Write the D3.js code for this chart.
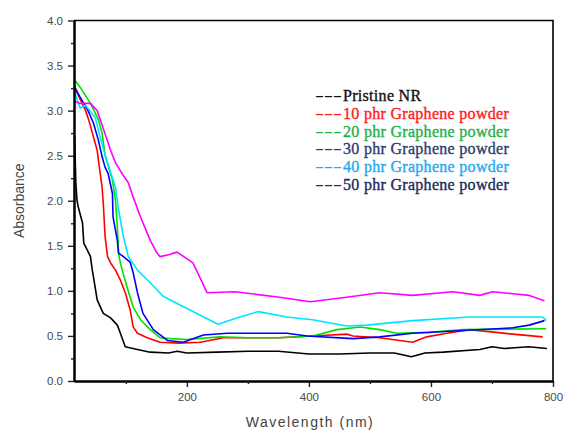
<!DOCTYPE html>
<html>
<head>
<meta charset="utf-8">
<script src="https://cdn.jsdelivr.net/npm/d3@7"></script>
<style>
  body { margin: 0; background: #fff; }
  #chart { width: 563px; height: 432px; }
  .tick text { font-family: Arial, "Liberation Sans", sans-serif; font-size: 11.5px; fill: #4a4a4a; }
  .legend text { font-family: "Liberation Serif", "DejaVu Serif", serif; font-size: 16px; }
</style>
</head>
<body>
<div id="chart"></div>
<script>
// wavelength (nm) / absorbance
const pristineWl = [16, 17, 18, 20, 22, 29, 31, 37, 42, 45, 47, 53, 63, 75, 86, 91, 99, 119, 140, 170, 184, 200, 250, 300, 350, 400, 450, 500, 540, 568, 590, 620, 680, 700, 720, 760, 790];
const pristineAbs = [2.72, 2.45, 2.2, 2.0, 1.93, 1.75, 1.53, 1.45, 1.38, 1.23, 1.15, 0.9, 0.75, 0.7, 0.62, 0.53, 0.38, 0.35, 0.32, 0.31, 0.33, 0.31, 0.32, 0.33, 0.33, 0.3, 0.3, 0.31, 0.31, 0.27, 0.31, 0.32, 0.35, 0.38, 0.36, 0.38, 0.36];

const phr10Wl = [16, 20, 34, 39, 53, 55, 61, 63, 66, 70, 75, 83, 91, 99, 107, 112, 119, 135, 156, 187, 222, 260, 300, 350, 406, 462, 472, 516, 570, 593, 626, 663, 707, 734, 783];
const phr10Abs = [3.27, 3.2, 3.0, 2.9, 2.56, 2.45, 2.15, 1.97, 1.6, 1.38, 1.31, 1.23, 1.12, 0.98, 0.79, 0.6, 0.53, 0.48, 0.43, 0.42, 0.43, 0.48, 0.48, 0.48, 0.5, 0.52, 0.5, 0.48, 0.43, 0.49, 0.53, 0.57, 0.54, 0.52, 0.49];

const phr20Wl = [16, 25, 42, 55, 61, 66, 78, 83, 86, 88, 91, 94, 102, 112, 124, 140, 156, 173, 200, 254, 300, 352, 406, 446, 484, 516, 544, 598, 652, 789];
const phr20Abs = [3.34, 3.26, 3.08, 2.9, 2.75, 2.5, 2.23, 2.0, 1.71, 1.42, 1.31, 1.23, 1.04, 0.82, 0.68, 0.57, 0.48, 0.47, 0.46, 0.49, 0.48, 0.48, 0.5, 0.57, 0.6, 0.57, 0.53, 0.54, 0.57, 0.58];

const phr30Wl = [16, 25, 38, 47, 55, 61, 66, 71, 78, 79, 86, 88, 96, 107, 112, 119, 128, 145, 168, 194, 227, 266, 364, 397, 472, 516, 570, 652, 707, 734, 761, 786];
const phr30Abs = [3.26, 3.15, 3.0, 2.86, 2.67, 2.49, 2.37, 2.3, 2.08, 1.82, 1.56, 1.42, 1.38, 1.32, 1.2, 0.98, 0.75, 0.57, 0.45, 0.43, 0.51, 0.53, 0.53, 0.5, 0.47, 0.49, 0.53, 0.56, 0.58, 0.59, 0.62, 0.67];

const phr40Wl = [16, 25, 34, 50, 58, 70, 83, 88, 96, 104, 119, 140, 161, 184, 222, 251, 287, 317, 364, 406, 462, 495, 570, 663, 734, 783, 789];
const phr40Abs = [3.2, 3.03, 3.06, 2.92, 2.7, 2.42, 2.15, 1.9, 1.6, 1.38, 1.23, 1.09, 0.94, 0.86, 0.73, 0.63, 0.71, 0.77, 0.71, 0.68, 0.61, 0.62, 0.67, 0.71, 0.71, 0.71, 0.67];

const phr50Wl = [16, 25, 42, 53, 62, 75, 83, 94, 104, 112, 124, 140, 151, 156, 170, 184, 210, 233, 279, 352, 402, 462, 516, 570, 636, 680, 701, 761, 786];
const phr50Abs = [3.1, 3.08, 3.08, 3.0, 2.82, 2.56, 2.42, 2.3, 2.2, 2.04, 1.82, 1.56, 1.42, 1.38, 1.4, 1.43, 1.31, 0.98, 0.99, 0.93, 0.88, 0.93, 0.98, 0.95, 0.99, 0.95, 0.99, 0.95, 0.89];

const seriesNames = ["Pristine NR", "10 phr Graphene powder", "20 phr Graphene powder", "30 phr Graphene powder", "40 phr Graphene powder", "50 phr Graphene powder"];
const lineColors = ["#000000", "#ff0000", "#00e000", "#0000ff", "#00e5ff", "#ff00ff"];
const legendColors = ["#111111", "#ff1a1a", "#1fb04a", "#2e3d6e", "#26a9ef", "#1c2a5c"];

const yTicks = [0, 0.5, 1.0, 1.5, 2.0, 2.5, 3.0, 3.5, 4.0];
const yMinor = [0.25, 0.75, 1.25, 1.75, 2.25, 2.75, 3.25, 3.75];
const xTicks = [200, 400, 600, 800];
const xMinor = [100, 300, 500, 700];

const wls = [pristineWl, phr10Wl, phr20Wl, phr30Wl, phr40Wl, phr50Wl];
const abss = [pristineAbs, phr10Abs, phr20Abs, phr30Abs, phr40Abs, phr50Abs];
const series = seriesNames.map((name, i) => ({
  name,
  color: lineColors[i],
  pts: wls[i].map((w, j) => [w, abss[i][j]])
}));

const W = 563, H = 432;
const margin = {left: 74, right: 10, top: 20.5, bottom: 51};

const svg = d3.select("#chart").append("svg")
  .attr("width", W)
  .attr("height", H);

const x = d3.scaleLinear().domain([15, 800]).range([margin.left, W - margin.right]);
const y = d3.scaleLinear().domain([0, 4]).range([H - margin.bottom, margin.top]);

// frame (top + right)
svg.append("path")
  .attr("d", `M${x(15)},${y(4)}H${x(800)}V${y(0)}`)
  .attr("fill", "none")
  .attr("stroke", "#000")
  .attr("stroke-width", 1.6);

// curves
const line = d3.line().x(d => x(d[0])).y(d => y(d[1]));
svg.selectAll("path.curve")
  .data(series)
  .enter().append("path")
    .attr("class", "curve")
    .attr("d", d => line(d.pts))
    .attr("fill", "none")
    .attr("stroke", d => d.color)
    .attr("stroke-width", 1.6)
    .attr("stroke-linejoin", "round");

// axes
svg.append("g")
  .attr("transform", `translate(${margin.left},0)`)
  .call(d3.axisLeft(y).tickValues(yTicks).tickFormat(d3.format(".1f")).tickSize(6).tickSizeOuter(0).tickPadding(5));
svg.append("g")
  .attr("transform", `translate(${margin.left},0)`)
  .call(d3.axisLeft(y).tickValues(yMinor).tickFormat("").tickSize(3).tickSizeOuter(0));

svg.append("g")
  .attr("transform", `translate(0,${H - margin.bottom})`)
  .call(d3.axisBottom(x).tickValues(xTicks).tickSize(6).tickSizeOuter(0).tickPadding(6));
svg.append("g")
  .attr("transform", `translate(0,${H - margin.bottom})`)
  .call(d3.axisBottom(x).tickValues(xMinor).tickFormat("").tickSize(3).tickSizeOuter(0));

svg.selectAll(".domain").attr("stroke", "#000").attr("stroke-width", 2);
svg.selectAll(".tick line").attr("stroke", "#222").attr("stroke-width", 1.4);

// axis titles
svg.append("text")
  .attr("transform", `translate(24,${(y(0) + y(4)) / 2}) rotate(-90)`)
  .attr("text-anchor", "middle")
  .style("font-family", "Arial, 'Liberation Sans', sans-serif")
  .style("font-size", "14px")
  .attr("fill", "#444")
  .text("Absorbance");

svg.append("text")
  .attr("x", 310)
  .attr("y", 427)
  .attr("text-anchor", "middle")
  .style("font-family", "Arial, 'Liberation Sans', sans-serif")
  .style("font-size", "14px")
  .style("letter-spacing", "1.5px")
  .attr("fill", "#444")
  .text("Wavelength (nm)");

// legend
const legend = svg.append("g").attr("class", "legend");
const legendRow = d3.scaleLinear().domain([0, 5]).range([101, 190]);
const rows = legend.selectAll("g")
  .data(seriesNames)
  .enter().append("g")
    .attr("fill", (d, i) => legendColors[i]);
rows.append("text")
  .attr("x", 315)
  .attr("y", (d, i) => legendRow(i))
  .attr("textLength", 27)
  .attr("lengthAdjust", "spacingAndGlyphs")
  .text("---");
rows.append("text")
  .attr("x", 343)
  .attr("y", (d, i) => legendRow(i))
  .style("letter-spacing", "0.3px")
  .style("stroke", (d, i) => legendColors[i])
  .style("stroke-width", 0.35)
  .text(d => d);
</script>
</body>
</html>
